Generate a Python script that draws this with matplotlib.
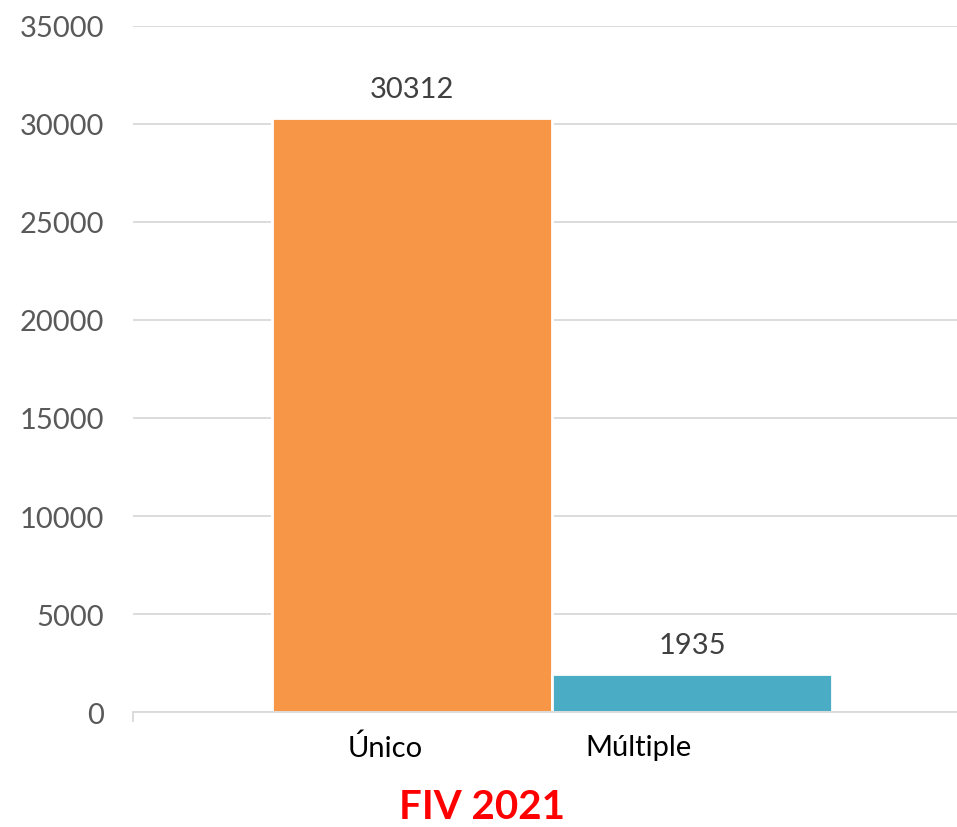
import matplotlib.pyplot as plt

plt.rcParams['font.family'] = ['Lato', 'DejaVu Sans']

# data
series = ['Único', 'Múltiple']
values = [30312, 1935]
colors = ['#F79646', '#4BACC6']
yticks = [0, 5000, 10000, 15000, 20000, 25000, 30000, 35000]
title = 'FIV 2021'

W, H = 957, 828
fig = plt.figure(figsize=(W / 100, H / 100), dpi=100)
ax = fig.add_axes([133 / W, 1 - 713 / H, 1 - 133 / W, (713 - 27) / H])

pos = list(range(len(values)))
ax.bar(pos, values, width=1.0, color=colors, edgecolor='white', linewidth=2, zorder=3)

for x, v in zip(pos, values):
    ax.annotate(str(v), (x, v), xytext=(0, 15), textcoords='offset points',
                ha='center', va='baseline', fontsize=21, color='#404040')

ax.set_ylim(0, 35000)
ax.set_xlim(-0.9964, 1.946)
ax.set_yticks(yticks)
ax.set_yticklabels([str(t) for t in yticks])
ax.tick_params(axis='y', length=0, pad=21, labelsize=21, labelcolor='#595959')
ax.set_xticks([-0.9964])
ax.set_xticklabels([''])
ax.tick_params(axis='x', length=7, width=1.3, color='#d9d9d9')

ax.grid(axis='y', color='#d9d9d9', linewidth=1.3, zorder=0)
for s in ['left', 'right', 'top']:
    ax.spines[s].set_visible(False)
ax.spines['bottom'].set_color('#d9d9d9')
ax.spines['bottom'].set_linewidth(1.3)
ax.spines['bottom'].set_zorder(4)

# category labels sit under the bars, slightly left of centre
fig.text(385 / W, 1 - 748 / H, series[0], ha='center', va='center', fontsize=21, color='black')
fig.text(638 / W, 1 - 748 / H, series[1], ha='center', va='center', fontsize=21, color='black')

fig.text(482 / W, 1 - 808 / H, title, ha='center', va='center', fontsize=29,
         fontweight='bold', color='#FF0000')

fig.savefig('out.png', dpi=100)
